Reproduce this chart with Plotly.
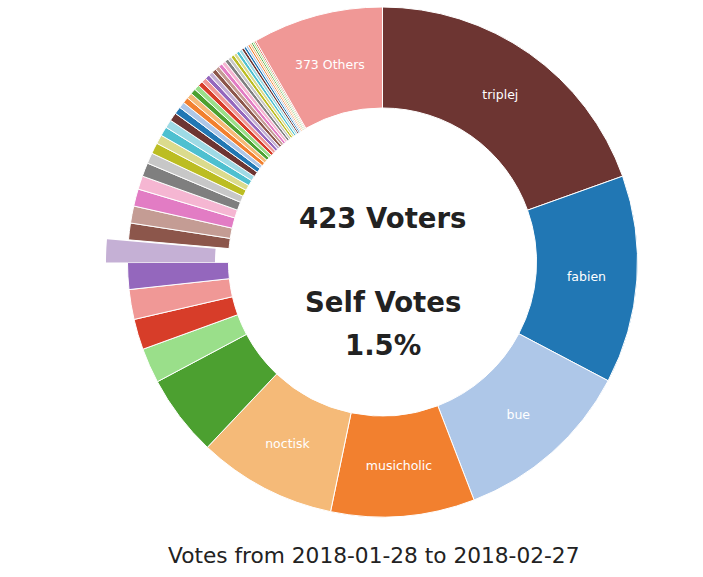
import plotly.graph_objects as go

# ---- data (share of votes, %) ----
names = ["triplej", "fabien", "bue", "musicholic", "noctisk"]
named_shares = [19.53, 13.17, 11.44, 9.11, 8.78]
minor_shares = [5.17, 2.22, 1.94, 1.89, 1.69, 1.42, 1.06, 1.08, 1.09, 0.85,
                0.87, 0.68, 0.69, 0.57, 0.58, 0.52, 0.53, 0.46, 0.39,
                0.375, 0.361, 0.347, 0.333, 0.319, 0.306, 0.292, 0.278, 0.272,
                0.264, 0.256, 0.25, 0.236, 0.222, 0.217, 0.208, 0.2, 0.194,
                0.167, 0.153, 0.139, 0.125, 0.125, 0.111, 0.111, 0.097]
others_label = "373 Others"
others_share = 8.28
voters = 423
self_votes = "1.5%"
title_text = "Votes from 2018-01-28 to 2018-02-27"
highlight_index = 10

palette = ["#6d3532", "#2177b4", "#aec7e8", "#f2802f", "#f5ba78", "#4ca030",
           "#9adf8a", "#d73d29", "#f09896", "#9467bd", "#c5b0d5", "#8c564b",
           "#c49c94", "#e27cc4", "#f5b6d2", "#7f7f7f", "#c7c7c7", "#bcbd22",
           "#dbdb8d", "#4ec0d0", "#9edae5"]

labels = names + [f"voter {i}" for i in range(len(names), len(names) + len(minor_shares))] + [others_label]
values = named_shares + minor_shares + [others_share]
texts = names + [""] * len(minor_shares) + [others_label]
colors = [palette[i % len(palette)] for i in range(len(values))]

W, H = 703, 577
FONT = "DejaVu Sans"

main_colors = list(colors)
main_colors[highlight_index] = "rgba(0,0,0,0)"
main_lw = [1] * len(values)
main_lw[highlight_index] = 0

hi_colors = ["rgba(0,0,0,0)"] * len(values)
hi_colors[highlight_index] = colors[highlight_index]
hi_lw = [0] * len(values)

fig = go.Figure()
fig.add_trace(go.Pie(
    labels=labels, values=values, text=texts, textinfo="text",
    textposition="inside", insidetextorientation="horizontal",
    textfont=dict(family=FONT, size=12.5, color="white"),
    sort=False, direction="clockwise", rotation=0, hole=0.604,
    marker=dict(colors=main_colors, line=dict(color="white", width=main_lw)),
    domain=dict(x=[127.5 / W, 637.5 / W], y=[60 / H, 570 / H]),
    showlegend=False, hoverinfo="label+percent",
))
fig.add_trace(go.Pie(
    labels=labels, values=values, textinfo="none",
    sort=False, direction="clockwise", rotation=0, hole=0.584,
    marker=dict(colors=hi_colors, line=dict(color="white", width=hi_lw)),
    domain=dict(x=[106 / W, 630 / W], y=[53 / H, 1.0]),
    showlegend=False, hoverinfo="skip",
))

cx = 382.5 / W
for txt, ypx in [(f"<b>{voters} Voters</b>", 218), ("<b>Self Votes</b>", 302),
                 (f"<b>{self_votes}</b>", 345)]:
    fig.add_annotation(x=cx, y=(H - ypx) / H, xref="paper", yref="paper",
                       text=txt, showarrow=False,
                       font=dict(family=FONT, size=27.5, color="#222"),
                       xanchor="center", yanchor="middle")
fig.add_annotation(x=373.5 / W, y=(H - 555) / H, xref="paper", yref="paper",
                   text=title_text, showarrow=False,
                   font=dict(family=FONT, size=21.7, color="#222"),
                   xanchor="center", yanchor="middle")

fig.update_layout(width=W, height=H, margin=dict(l=0, r=0, t=0, b=0),
                  paper_bgcolor="white", plot_bgcolor="white")
fig.write_html("out.html")
